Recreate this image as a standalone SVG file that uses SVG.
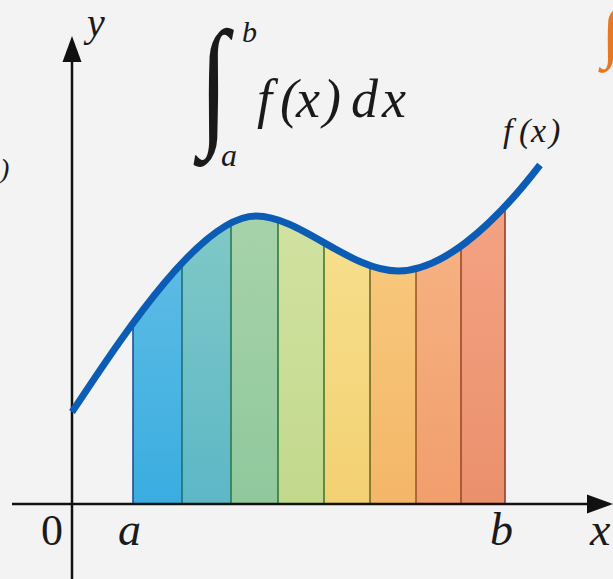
<svg xmlns="http://www.w3.org/2000/svg" width="613" height="579" viewBox="0 0 613 579">
<style>
.lbl{font-family:"Liberation Serif","Times New Roman",serif;font-style:italic;fill:#1a1a1a}
.num{font-family:"Liberation Serif","Times New Roman",serif;fill:#1a1a1a}
.axis{stroke:#111;stroke-width:2.5;fill:none}
.div{stroke-width:1.6;fill:none}
.curve{stroke:#0b5cb5;stroke-width:7;fill:none;stroke-linecap:butt;stroke-linejoin:round}
</style>
<defs>
<clipPath id="under">
<path d="M72,412 C120,340 200,216 256,216 C300,216 350,271 398,271 C440,271 490,230 540,165 L540,504 L72,504 Z"/>
</clipPath>
<linearGradient id="g1" x1="0" y1="0" x2="0" y2="1"><stop offset="0" stop-color="#6cc2e6"/><stop offset="1" stop-color="#3aade0"/></linearGradient>
<linearGradient id="g2" x1="0" y1="0" x2="0" y2="1"><stop offset="0" stop-color="#88cdc6"/><stop offset="1" stop-color="#5db7c6"/></linearGradient>
<linearGradient id="g3" x1="0" y1="0" x2="0" y2="1"><stop offset="0" stop-color="#acd5ad"/><stop offset="1" stop-color="#90c89c"/></linearGradient>
<linearGradient id="g4" x1="0" y1="0" x2="0" y2="1"><stop offset="0" stop-color="#d5e4a6"/><stop offset="1" stop-color="#c2d98c"/></linearGradient>
<linearGradient id="g5" x1="0" y1="0" x2="0" y2="1"><stop offset="0" stop-color="#f9e395"/><stop offset="1" stop-color="#f2d172"/></linearGradient>
<linearGradient id="g6" x1="0" y1="0" x2="0" y2="1"><stop offset="0" stop-color="#f9d084"/><stop offset="1" stop-color="#f4b668"/></linearGradient>
<linearGradient id="g7" x1="0" y1="0" x2="0" y2="1"><stop offset="0" stop-color="#f8b88a"/><stop offset="1" stop-color="#f19e6c"/></linearGradient>
<linearGradient id="g8" x1="0" y1="0" x2="0" y2="1"><stop offset="0" stop-color="#f5a688"/><stop offset="1" stop-color="#eb906c"/></linearGradient>
</defs>
<rect x="0" y="0" width="613" height="579" fill="#f3f3f3"/>

<g id="strips" clip-path="url(#under)">
<rect id="strip1" x="133" y="150" width="49" height="354" fill="url(#g1)"/>
<rect id="strip2" x="182" y="150" width="49" height="354" fill="url(#g2)"/>
<rect id="strip3" x="231" y="150" width="47" height="354" fill="url(#g3)"/>
<rect id="strip4" x="278" y="150" width="46" height="354" fill="url(#g4)"/>
<rect id="strip5" x="324" y="150" width="46" height="354" fill="url(#g5)"/>
<rect id="strip6" x="370" y="150" width="46" height="354" fill="url(#g6)"/>
<rect id="strip7" x="416" y="150" width="45" height="354" fill="url(#g7)"/>
<rect id="strip8" x="461" y="150" width="44" height="354" fill="url(#g8)"/>
<line class="div" x1="133" y1="150" x2="133" y2="504" stroke="#1d4f9c"/>
<line class="div" x1="182" y1="150" x2="182" y2="504" stroke="#1f6e78"/>
<line class="div" x1="231" y1="150" x2="231" y2="504" stroke="#2a7a50"/>
<line class="div" x1="278" y1="150" x2="278" y2="504" stroke="#2e7a3e"/>
<line class="div" x1="324" y1="150" x2="324" y2="504" stroke="#3e7a30"/>
<line class="div" x1="370" y1="150" x2="370" y2="504" stroke="#6a6a28"/>
<line class="div" x1="416" y1="150" x2="416" y2="504" stroke="#9a5a28"/>
<line class="div" x1="461" y1="150" x2="461" y2="504" stroke="#9a4a28"/>
<line class="div" x1="505" y1="150" x2="505" y2="504" stroke="#8a4030"/>
</g>

<g id="axes">
<line class="axis" x1="72" y1="579" x2="72" y2="58"/>
<polygon points="72,36 62.5,62 81.5,62" fill="#111"/>
<line class="axis" x1="12" y1="504" x2="592" y2="504"/>
<polygon points="613,504 587,494.5 587,513.5" fill="#111"/>
</g>

<g id="curve">
<path class="curve" d="M72,412 C120,340 200,216 256,216 C300,216 350,271 398,271 C440,271 490,230 540,165"/>
</g>

<g id="labels">
<text class="lbl" x="87" y="36" font-size="40">y</text>
<text class="num" x="41" y="545" font-size="44">0</text>
<text class="lbl" x="118" y="545" font-size="46">a</text>
<text class="lbl" x="490" y="545" font-size="46">b</text>
<text class="lbl" x="590" y="545" font-size="46">x</text>
<text class="lbl" font-size="34" y="142"><tspan x="503">f</tspan><tspan x="519">(</tspan><tspan x="531">x</tspan><tspan x="549">)</tspan></text>
<text class="lbl" x="0" y="178" font-size="28">)</text>
</g>

<g id="formula">
<text class="lbl" transform="translate(199,129) scale(0.75,1)" font-size="142">∫</text>
<text class="lbl" x="242" y="42" font-size="30">b</text>
<text class="lbl" x="221" y="166" font-size="32">a</text>
<text class="lbl" font-size="54" y="117"><tspan x="257">f</tspan><tspan x="280">(</tspan><tspan x="296">x</tspan><tspan x="323">)</tspan><tspan x="351">d</tspan><tspan x="382">x</tspan></text>
<text x="602" y="55" font-size="66" font-family="Liberation Serif, serif" font-style="italic" fill="#e87722">∫</text>
</g>
</svg>
